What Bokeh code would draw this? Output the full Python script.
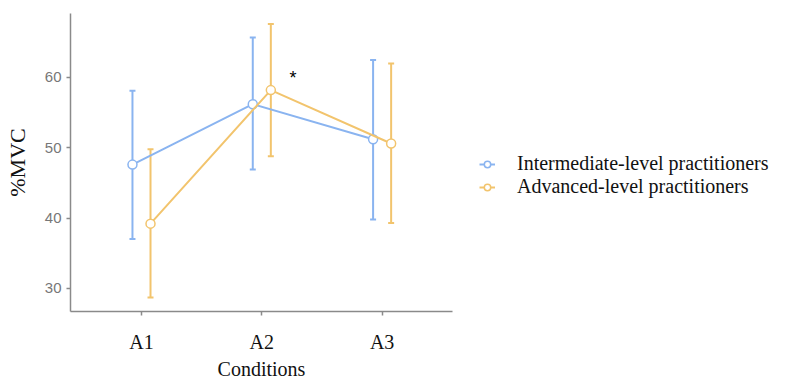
from bokeh.plotting import figure
from bokeh.models import (ColumnDataSource, Whisker, TeeHead, Legend, LegendItem,
                          FixedTicker, Range1d, Label)
from bokeh.embed import file_html
from bokeh.resources import INLINE

# ---- data ----
conditions = ["A1", "A2", "A3"]
cond_pos = [1, 2, 3]
groups = ["Intermediate-level practitioners", "Advanced-level practitioners"]

inter_mean = [47.6, 56.2, 51.2]
inter_upper = [58.1, 65.7, 62.5]
inter_lower = [37.0, 46.9, 39.8]

adv_mean = [39.2, 58.2, 50.6]
adv_upper = [49.8, 67.6, 62.0]
adv_lower = [28.7, 48.8, 39.3]

y_ticks = [30, 40, 50, 60]
star_label = "*"

# ---- styles ----
BLUE = "#8ab4f0"
ORANGE = "#f2c46d"
DODGE = 0.075
SERIF = "Liberation Serif"

p = figure(frame_width=382, frame_height=298, output_backend="svg", toolbar_location=None,
           x_range=Range1d(0.41, 3.585), y_range=Range1d(26.7, 69.1),
           min_border_left=70, min_border_top=13, min_border_bottom=74,
           min_border_right=343)
p.outline_line_color = None
p.xgrid.visible = False
p.ygrid.visible = False
p.background_fill_color = "white"
p.border_fill_color = "white"

series = [
    (groups[0], inter_mean, inter_upper, inter_lower, BLUE, -DODGE),
    (groups[1], adv_mean, adv_upper, adv_lower, ORANGE, DODGE),
]

items = []
for name, mean, up, lo, color, off in series:
    src = ColumnDataSource(dict(x=[c + off for c in cond_pos], y=mean, upper=up, lower=lo))
    w = Whisker(source=src, base="x", upper="upper", lower="lower", dimension="height",
                line_color=color, line_width=2,
                upper_head=TeeHead(size=6, line_color=color, line_width=2),
                lower_head=TeeHead(size=6, line_color=color, line_width=2))
    p.add_layout(w)
    ln = p.line("x", "y", source=src, line_color=color, line_width=2)
    sc = p.scatter("x", "y", source=src, size=9, marker="circle", fill_color="white",
                   line_color=color, line_width=1.5)
    items.append(LegendItem(label=name, renderers=[ln, sc]))

p.add_layout(Label(x=2.26, y=59.9, text=star_label, text_font_size="18px",
                   text_color="black", text_align="center", text_baseline="middle"))

legend = Legend(items=items, location=(27, 113), border_line_color=None,
                background_fill_alpha=0, label_text_font=SERIF,
                label_text_font_size="20px", label_text_color="#111111",
                glyph_width=16, glyph_height=16, label_standoff=22,
                spacing=0, padding=10, margin=0)
p.add_layout(legend, "right")

# axes
p.xaxis.ticker = FixedTicker(ticks=cond_pos)
p.xaxis.major_label_overrides = {c: l for c, l in zip(cond_pos, conditions)}
p.xaxis.axis_label = "Conditions"
p.yaxis.ticker = FixedTicker(ticks=y_ticks)
p.yaxis.axis_label = "%MVC"

for ax in (p.xaxis[0], p.yaxis[0]):
    ax.axis_line_color = "#8a8a8a"
    ax.axis_line_width = 1.5
    ax.major_tick_line_color = "#8a8a8a"
    ax.major_tick_line_width = 1.5
    ax.major_tick_out = 4
    ax.major_tick_in = 0
    ax.minor_tick_line_color = None
    ax.axis_label_text_font = SERIF
    ax.axis_label_text_font_style = "normal"
    ax.axis_label_text_color = "#111111"

p.xaxis.major_label_text_font = SERIF
p.xaxis.major_label_text_font_size = "20px"
p.xaxis.major_label_text_color = "#111111"
p.xaxis.major_label_standoff = 15
p.xaxis.axis_label_text_font_size = "20px"
p.xaxis.axis_label_standoff = 2

p.yaxis.major_label_text_font = "Liberation Sans"
p.yaxis.major_label_text_font_size = "15px"
p.yaxis.major_label_text_color = "#777777"
p.yaxis.major_label_standoff = 5
p.yaxis.axis_label_text_font_size = "22px"
p.yaxis.axis_label_standoff = 12

open("out.html", "w").write(file_html(p, INLINE))
